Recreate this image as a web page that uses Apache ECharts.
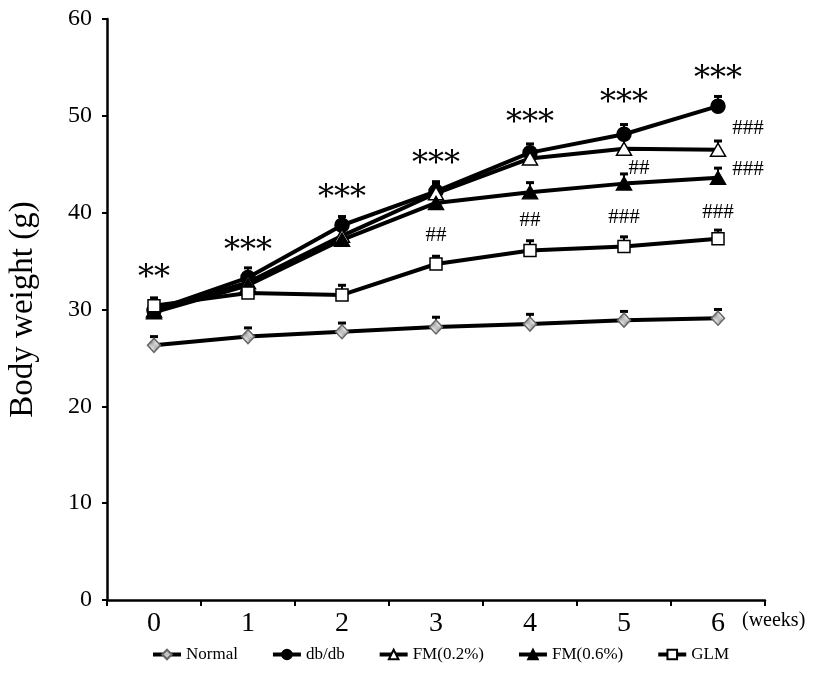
<!DOCTYPE html>
<html>
<head>
<meta charset="utf-8">
<script src="https://cdn.jsdelivr.net/npm/echarts@6/dist/echarts.min.js"></script>
<style>html,body{margin:0;padding:0;background:#fff}#c{width:827px;height:678px}</style>
</head>
<body>
<div id="c"></div>
<script>
const weeks = ['0','1','2','3','4','5','6'];
const seriesNames = ['Normal','db/db','FM(0.2%)','FM(0.6%)','GLM'];
const normal = [26.3,27.2,27.7,28.2,28.5,28.9,29.1];
const normalSD = [0.9,0.9,0.9,1.0,1.0,0.9,0.9];
const dbdb = [29.9,33.3,38.7,42.2,46.2,48.1,51.0];
const dbdbSD = [0.9,1.0,0.9,1.0,0.9,1.0,1.0];
const fm02 = [29.9,32.8,37.6,42.0,45.6,46.6,46.5];
const fm02SD = [0.9,1.0,1.0,1.0,1.0,1.1,0.9];
const fm06 = [29.7,32.5,37.2,41.0,42.1,43.0,43.6];
const fm06SD = [0.9,1.0,1.0,1.0,1.0,1.0,1.0];
const glm = [30.4,31.7,31.5,34.7,36.1,36.5,37.3];
const glmSD = [0.8,0.9,1.0,0.8,1.0,1.0,0.9];
const yTicks = [0,10,20,30,40,50,60];
// significance annotations (x in weeks, y in grams)
const starX = [0,1,2,3,4,5,6];
const starY = [33.2,36.0,41.4,45.0,49.2,51.3,53.7];
const starText = ['**','***','***','***','***','***','***'];
const hashX = [3,4,5,6,5.16,6.32,6.32];
const hashY = [37.6,39.2,39.5,40.0,44.6,48.7,44.5];
const hashText = ['##','##','###','###','##','###','###'];

const FONT = '"Liberation Serif","Times New Roman",serif';
const STARFONT = '"DejaVu Serif",serif';

// checkered pattern for the Normal diamond
const pc = document.createElement('canvas');
pc.width = 2; pc.height = 2;
const pctx = pc.getContext('2d');
pctx.fillStyle = '#ffffff'; pctx.fillRect(0,0,2,2);
pctx.fillStyle = '#8a8a8a'; pctx.fillRect(0,0,1,1); pctx.fillRect(1,1,1,1);
const checker = {image: pc, repeat: 'repeat'};

const styles = {
  'Normal':   {symbol:'diamond', size:[13,14], fill: checker, border:'#666'},
  'db/db':    {symbol:'circle', size:14, fill:'#000', border:'#000'},
  'FM(0.2%)': {symbol:'triangle', size:[15,13], fill:'#fff', border:'#000'},
  'FM(0.6%)': {symbol:'triangle', size:[15,13], fill:'#000', border:'#000'},
  'GLM':      {symbol:'rect', size:[12,12], fill:'#fff', border:'#000'}
};
const values = {'Normal':normal,'db/db':dbdb,'FM(0.2%)':fm02,'FM(0.6%)':fm06,'GLM':glm};
const sds = {'Normal':normalSD,'db/db':dbdbSD,'FM(0.2%)':fm02SD,'FM(0.6%)':fm06SD,'GLM':glmSD};

const series = [];
seriesNames.forEach(function(name){
  const st = styles[name];
  series.push({
    name: name,
    type: 'line',
    data: values[name],
    symbol: st.symbol,
    symbolSize: st.size,
    showAllSymbol: true,
    z: 3,
    lineStyle: {color:'#000', width:4},
    itemStyle: {color: st.fill, borderColor: st.border, borderWidth: 1.5},
    emphasis: {disabled:true}
  });
  series.push({
    name: name + ' SD',
    type: 'custom',
    z: 2,
    silent: true,
    data: values[name].map(function(v,i){ return [i, v, sds[name][i]]; }),
    renderItem: function(params, api){
      const i = api.value(0), v = api.value(1), s = api.value(2);
      const p0 = api.coord([i, v]);
      const p1 = api.coord([i, v + s]);
      return {type:'group', children:[
        {type:'line', shape:{x1:p0[0], y1:p0[1], x2:p1[0], y2:p1[1]}, style:{stroke:'#000', lineWidth:2}},
        {type:'line', shape:{x1:p1[0]-4, y1:p1[1], x2:p1[0]+4, y2:p1[1]}, style:{stroke:'#000', lineWidth:3}}
      ]};
    }
  });
});

function textSeries(name, xs, ys, texts, font){
  return {
    name: name,
    type: 'custom',
    xAxisIndex: 1,
    silent: true,
    z: 5,
    data: xs.map(function(x,i){ return [x, ys[i], i]; }),
    renderItem: function(params, api){
      const p = api.coord([api.value(0), api.value(1)]);
      return {type:'text', x:p[0], y:p[1], style:{text: texts[api.value(2)], font: font, fill:'#000', align:'center', verticalAlign:'middle'}};
    }
  };
}
series.push(textSeries('stars', starX, starY, starText, '32px ' + STARFONT));
series.push(textSeries('hashes', hashX, hashY, hashText, '21px ' + FONT));

const chart = echarts.init(document.getElementById('c'), null, {renderer:'canvas'});
chart.setOption({
  animation: false,
  backgroundColor: '#fff',
  grid: {left:107, right:62, top:19, bottom:78, containLabel:false, outerBoundsMode:'none'},
  legend: {
    data: seriesNames,
    left: 146,
    top: 641,
    itemWidth: 28,
    itemHeight: 12,
    itemGap: 33,
    lineStyle: {width: 4},
    textStyle: {fontFamily: FONT, fontSize: 17, color:'#000'},
    selectedMode: false
  },
  xAxis: [{
    type: 'category',
    data: weeks,
    boundaryGap: true,
    name: '(weeks)',
    nameLocation: 'end',
    nameGap: -23,
    nameTextStyle: {fontFamily: FONT, fontSize: 20, color:'#000', verticalAlign:'top', padding:[11,0,0,0]},
    axisLine: {onZero:false, lineStyle:{color:'#000', width:2.5}},
    axisTick: {show:true, inside:false, length:6, lineStyle:{color:'#000', width:2}, alignWithLabel:false},
    axisLabel: {fontFamily: FONT, fontSize: 28, color:'#000', margin:10},
    splitLine: {show:false}
  },{
    type: 'value',
    min: -0.5,
    max: 6.5,
    show: false
  }],
  yAxis: {
    type: 'value',
    min: 0,
    max: 60,
    interval: 10,
    name: 'Body weight (g)',
    nameLocation: 'middle',
    nameGap: 67,
    nameTextStyle: {fontFamily: FONT, fontSize: 33, color:'#000'},
    axisLine: {show:true, onZero:false, lineStyle:{color:'#000', width:2.5}},
    axisTick: {show:true, inside:false, length:5, lineStyle:{color:'#000', width:2}},
    axisLabel: {fontFamily: FONT, fontSize: 24, color:'#000', margin:15,
      formatter: function(v){ return yTicks.indexOf(v) >= 0 ? String(v) : ''; }},
    splitLine: {show:false}
  },
  series: series
});
</script>
</body>
</html>
